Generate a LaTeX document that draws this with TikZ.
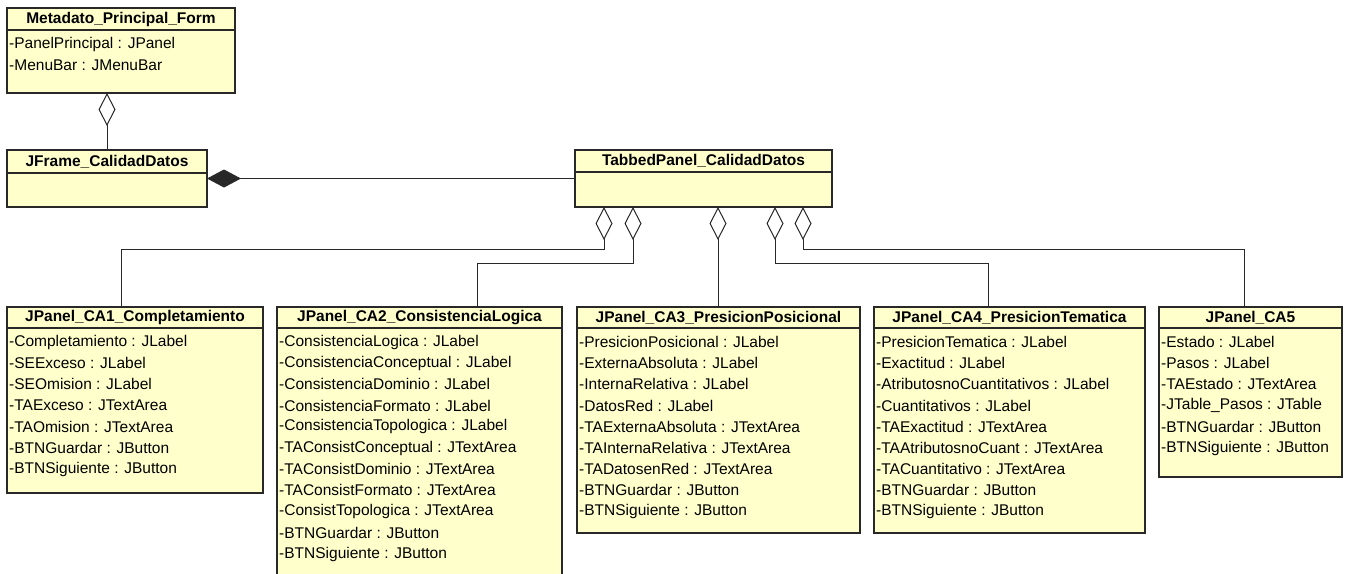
\documentclass[tikz,border=0pt]{standalone}
\usepackage{fontspec}
\setmainfont{Liberation Sans}
\usetikzlibrary{arrows.meta}

\definecolor{classfill}{RGB}{255,255,204}
\definecolor{edgegray}{RGB}{40,40,40}

\tikzset{
  classbox/.style={draw=edgegray, line width=1.1pt, fill=classfill,
    inner sep=0pt, outer sep=0pt, anchor=north west},
  classtitle/.style={font=\fontsize{15.5}{18}\selectfont\bfseries, inner sep=0pt},
  attrtext/.style={font=\fontsize{15.5}{18}\selectfont, inner sep=0pt, anchor=west},
  link/.style={draw=edgegray, line width=1pt},
  aggr/.style={link, -{Diamond[fill=white, length=33pt, width=17pt, line width=1pt]}},
  comp/.style={link, -{Diamond[length=34pt, width=18pt]}},
}

% class box: name, left, top, right, bottom, title rule, title
\newcommand\umlclass[7]{%
  \node[classbox, minimum width={(#4-#2)*1pt}, minimum height={(#5-#3)*1pt}] (#1) at (#2,#3) {};
  \draw[edgegray, line width=1.1pt] (#2,#6) -- (#4,#6);
  \node[classtitle] (#1-title) at ({(#2+#4)/2},{(#3+#6)/2}) {#7};
}
% attribute rows: name, left, title rule, list
\newcommand\umlattrs[4]{%
  \foreach \attr [count=\k from 0] in {#4}
    \node[attrtext] (#1-a\k) at ({#2+2},{#3+14+\k*21.2}) {\attr};
}

\begin{document}
\begin{tikzpicture}[x=1pt, y=-1pt]
\useasboundingbox (0,0) rectangle (1346,573);
\clip (0,0) rectangle (1346,573);

% top classes
\umlclass{meta}{7}{8}{235}{93}{30}{Metadato\_Principal\_Form}
\umlattrs{meta}{7}{30}{-PanelPrincipal : JPanel, -MenuBar : JMenuBar}

\umlclass{frame}{7}{150}{207}{207}{173}{JFrame\_CalidadDatos}
\umlclass{tab}{575}{150}{832}{207}{172}{TabbedPanel\_CalidadDatos}

% panel classes
\umlclass{ca1}{7}{307}{263}{493}{328}{JPanel\_CA1\_Completamiento}
\umlattrs{ca1}{7}{328}{-Completamiento : JLabel, -SEExceso : JLabel, -SEOmision : JLabel,
  -TAExceso : JTextArea, -TAOmision : JTextArea, -BTNGuardar : JButton, -BTNSiguiente : JButton}

\umlclass{ca2}{277}{307}{562}{600}{328}{JPanel\_CA2\_ConsistenciaLogica}
\umlattrs{ca2}{277}{328}{-ConsistenciaLogica : JLabel, -ConsistenciaConceptual : JLabel,
  -ConsistenciaDominio : JLabel, -ConsistenciaFormato : JLabel, -ConsistenciaTopologica : JLabel,
  -TAConsistConceptual : JTextArea, -TAConsistDominio : JTextArea, -TAConsistFormato : JTextArea,
  -ConsistTopologica : JTextArea, -BTNGuardar : JButton, -BTNSiguiente : JButton}

\umlclass{ca3}{577}{307}{860}{533}{328}{JPanel\_CA3\_PresicionPosicional}
\umlattrs{ca3}{577}{328}{-PresicionPosicional : JLabel, -ExternaAbsoluta : JLabel,
  -InternaRelativa : JLabel, -DatosRed : JLabel, -TAExternaAbsoluta : JTextArea,
  -TAInternaRelativa : JTextArea, -TADatosenRed : JTextArea, -BTNGuardar : JButton,
  -BTNSiguiente : JButton}

\umlclass{ca4}{874}{307}{1145}{533}{328}{JPanel\_CA4\_PresicionTematica}
\umlattrs{ca4}{874}{328}{-PresicionTematica : JLabel, -Exactitud : JLabel,
  -AtributosnoCuantitativos : JLabel, -Cuantitativos : JLabel, -TAExactitud : JTextArea,
  -TAAtributosnoCuant : JTextArea, -TACuantitativo : JTextArea, -BTNGuardar : JButton,
  -BTNSiguiente : JButton}

\umlclass{ca5}{1159}{307}{1342}{477}{328}{JPanel\_CA5}
\umlattrs{ca5}{1159}{328}{-Estado : JLabel, -Pasos : JLabel, -TAEstado : JTextArea,
  -JTable\_Pasos : JTable, -BTNGuardar : JButton, -BTNSiguiente : JButton}

% aggregation: form owns the frame
\draw[aggr] (frame.north) -- (frame.north |- meta.south);
% composition: frame holds the tabbed panel
\draw[comp] (tab.west) -- (frame.east);

% aggregation ends on the tabbed panel
\coordinate (t1) at (tab.south -| 604,0);
\coordinate (t2) at (tab.south -| 633,0);
\coordinate (t3) at (tab.south -| 718,0);
\coordinate (t4) at (tab.south -| 775,0);
\coordinate (t5) at (tab.south -| 803,0);
% elbows of the routed connectors
\coordinate (b1) at (121,249);
\coordinate (b2) at (477,263);
\coordinate (b4) at (988,263);
\coordinate (b5) at (1244,249);

\draw[aggr] (ca1.north -| b1) -- (b1) -| (t1);
\draw[aggr] (ca2.north -| b2) -- (b2) -| (t2);
\draw[aggr] (ca3.north -| t3) -- (t3);
\draw[aggr] (ca4.north -| b4) -- (b4) -| (t4);
\draw[aggr] (ca5.north -| b5) -- (b5) -| (t5);
\end{tikzpicture}
\end{document}
